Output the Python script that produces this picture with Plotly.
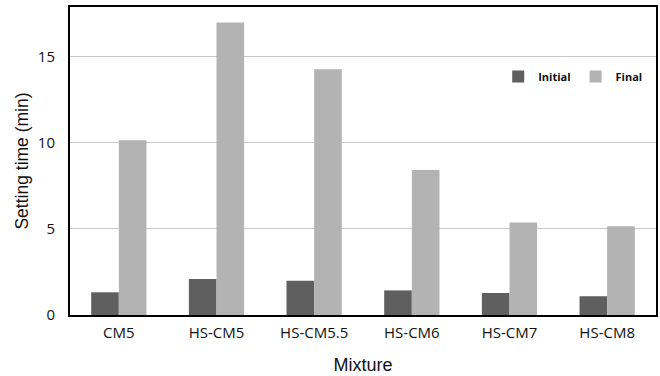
import plotly.graph_objects as go

categories = ["CM5", "HS-CM5", "HS-CM5.5", "HS-CM6", "HS-CM7", "HS-CM8"]
initial = [1.32, 2.09, 1.99, 1.43, 1.28, 1.09]
final = [10.15, 17.0, 14.28, 8.43, 5.37, 5.16]

fig = go.Figure()
fig.add_trace(go.Bar(x=categories, y=initial, name="Initial", marker=dict(color="#5f5f5f", line=dict(width=0))))
fig.add_trace(go.Bar(x=categories, y=final, name="Final", marker=dict(color="#b3b3b3", line=dict(width=0))))

fig.update_layout(
    width=660, height=376,
    margin=dict(l=70, r=4, t=7, b=61, autoexpand=False),
    paper_bgcolor="white", plot_bgcolor="white",
    barmode="group", bargap=0.434, bargroupgap=0,
    showlegend=True,
    legend=dict(orientation="h", x=0.985, xanchor="right", y=0.774, yanchor="middle",
                font=dict(family="Open Sans", size=11, color="#111", weight="bold"),
                itemwidth=30, bgcolor="rgba(0,0,0,0)", traceorder="normal"),
    font=dict(family="Open Sans", color="#111"),
)
fig.update_xaxes(
    automargin=False,
    showline=True, linecolor="black", linewidth=2, mirror=True,
    ticks="", tickfont=dict(family="Open Sans", size=15, color="#111"),
    ticklabelstandoff=3,
    title=dict(text="Mixture", font=dict(family="Liberation Sans", size=18, color="#111"), standoff=17),
)
fig.update_yaxes(
    automargin=False,
    range=[0, 17.9], tickvals=[0, 5, 10, 15],
    showline=True, linecolor="black", linewidth=2, mirror=True,
    showgrid=True, gridcolor="#c8c8c8", gridwidth=1, zeroline=False,
    ticks="", tickfont=dict(family="Open Sans", size=15, color="#111"),
    ticklabelstandoff=10,
    title=dict(text="Setting time (min)", font=dict(family="Liberation Sans", size=17.5, color="#111"), standoff=5),
)
fig.write_html("out.html", config={"displayModeBar": False},
               post_script="document.body.style.margin='0';document.body.style.overflow='hidden';")
